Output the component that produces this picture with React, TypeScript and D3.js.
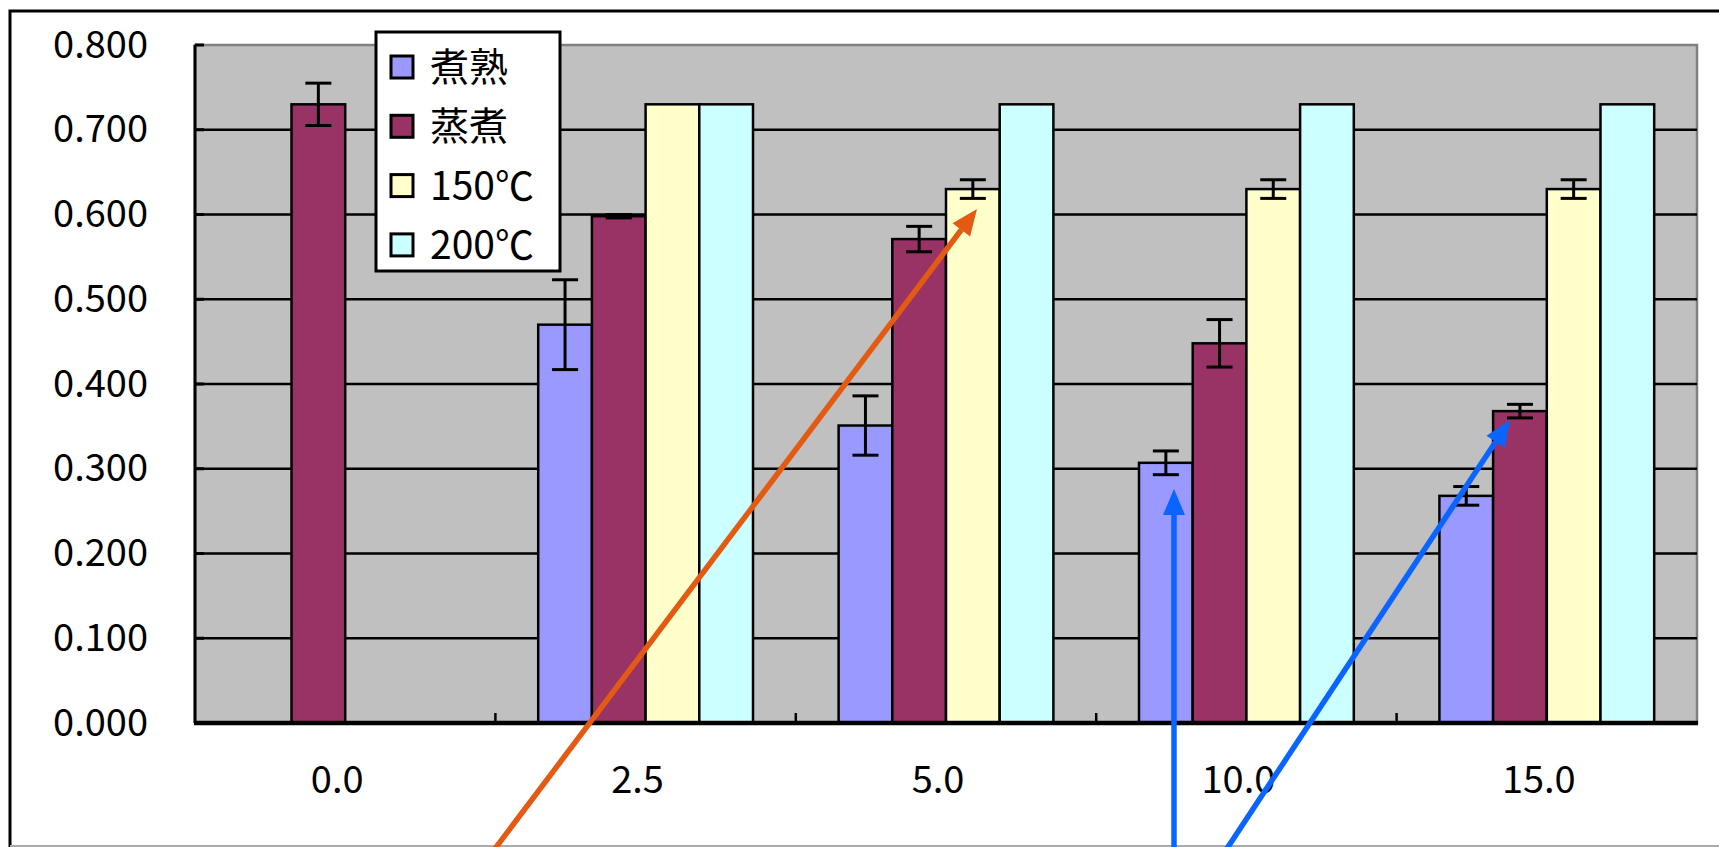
import React, { useEffect, useRef } from "react";
import * as d3 from "d3";

const categories = ["0.0", "2.5", "5.0", "10.0", "15.0"];
const seriesNames = ["煮熟", "蒸煮", "150℃", "200℃"];
const seriesColors = ["#9999FF", "#993366", "#FFFFCC", "#CCFFFF"];
// values per series, per category (null = no bar)
const valBoiled: (number | null)[] = [null, 0.47, 0.351, 0.307, 0.268];
const valSteamed: (number | null)[] = [0.73, 0.598, 0.571, 0.448, 0.368];
const val150: (number | null)[] = [null, 0.73, 0.63, 0.63, 0.63];
const val200: (number | null)[] = [null, 0.73, 0.73, 0.73, 0.73];
const errBoiled: number[] = [0, 0.053, 0.035, 0.014, 0.011];
const errSteamed: number[] = [0.025, 0.002, 0.015, 0.028, 0.008];
const err150: number[] = [0, 0, 0.011, 0.011, 0.011];
const err200: number[] = [0, 0, 0, 0, 0];
const yTicks = [0, 0.1, 0.2, 0.3, 0.4, 0.5, 0.6, 0.7, 0.8];

const W = 1719;
const H = 847;
const FONT = "'Noto Sans CJK JP', 'Liberation Sans', sans-serif";

export default function App() {
  const ref = useRef<SVGSVGElement>(null);
  useEffect(() => {
    const svg = d3.select(ref.current!);
    svg.selectAll("*").remove();

    const left = 195, right = 1697, top = 45, bottom = 723;
    const values = [valBoiled, valSteamed, val150, val200];
    const errs = [errBoiled, errSteamed, err150, err200];

    const x = d3.scaleBand<string>().domain(categories).range([left, right])
      .paddingInner(0.285).paddingOuter(0.1425);
    const xs = d3.scaleBand<string>().domain(seriesNames).range([0, x.bandwidth()]);
    const y = d3.scaleLinear().domain([0, 0.8]).range([bottom, top]);
    const step = x.step();

    // outer frame
    svg.append("rect").attr("x", 10).attr("y", 11).attr("width", 1800).attr("height", 900)
      .attr("fill", "white").attr("stroke", "black").attr("stroke-width", 3);
    svg.append("line").attr("x1", 10).attr("x2", W).attr("y1", 846).attr("y2", 846)
      .attr("stroke", "#aaaaaa").attr("stroke-width", 2);

    // plot area
    svg.append("rect").attr("x", left).attr("y", top).attr("width", right - left)
      .attr("height", bottom - top).attr("fill", "#C0C0C0")
      .attr("stroke", "#808080").attr("stroke-width", 2.5);

    // gridlines
    svg.append("g").selectAll("line").data(yTicks.filter(t => t > 0 && t < 0.8)).join("line")
      .attr("x1", left).attr("x2", right).attr("y1", d => y(d)).attr("y2", d => y(d))
      .attr("stroke", "black").attr("stroke-width", 2.5);

    // bars
    seriesNames.forEach((s, si) => {
      const g = svg.append("g");
      categories.forEach((c, ci) => {
        const v = values[si][ci];
        if (v == null) return;
        const bx = x(c)! + xs(s)!;
        g.append("rect").attr("x", bx).attr("y", y(v)).attr("width", xs.bandwidth())
          .attr("height", y(0) - y(v)).attr("fill", seriesColors[si])
          .attr("stroke", "black").attr("stroke-width", 2.5);
      });
    });
    // error bars
    seriesNames.forEach((s, si) => {
      const g = svg.append("g").attr("stroke", "black").attr("stroke-width", 3);
      categories.forEach((c, ci) => {
        const v = values[si][ci];
        const e = errs[si][ci];
        if (v == null || !e) return;
        const cx = x(c)! + xs(s)! + xs.bandwidth() / 2;
        g.append("line").attr("x1", cx).attr("x2", cx).attr("y1", y(v + e)).attr("y2", y(v - e));
        g.append("line").attr("x1", cx - 13).attr("x2", cx + 13).attr("y1", y(v + e)).attr("y2", y(v + e));
        g.append("line").attr("x1", cx - 13).attr("x2", cx + 13).attr("y1", y(v - e)).attr("y2", y(v - e));
      });
    });

    // axes lines
    svg.append("line").attr("x1", left).attr("x2", left).attr("y1", top).attr("y2", bottom)
      .attr("stroke", "black").attr("stroke-width", 3);
    svg.append("g").selectAll("line").data(yTicks).join("line")
      .attr("x1", left).attr("x2", left + 9).attr("y1", d => y(d)).attr("y2", d => y(d))
      .attr("stroke", "black").attr("stroke-width", 3);
    svg.append("g").selectAll("line").data(d3.range(1, categories.length)).join("line")
      .attr("x1", d => left + d * step).attr("x2", d => left + d * step)
      .attr("y1", bottom).attr("y2", bottom - 10)
      .attr("stroke", "black").attr("stroke-width", 2.5);
    svg.append("line").attr("x1", left - 1).attr("x2", right + 1).attr("y1", bottom).attr("y2", bottom)
      .attr("stroke", "black").attr("stroke-width", 4.5);

    // tick labels
    svg.append("g").selectAll("text").data(yTicks).join("text")
      .attr("x", 148).attr("y", d => y(d) - 1).attr("dy", "0.36em")
      .attr("text-anchor", "end").attr("font-family", FONT).attr("font-size", 38)
      .text(d => d3.format(".3f")(d));
    svg.append("g").selectAll("text").data(categories).join("text")
      .attr("x", d => x(d)! + x.bandwidth() / 2 - 8).attr("y", 779).attr("dy", "0.36em")
      .attr("text-anchor", "middle").attr("font-family", FONT).attr("font-size", 38)
      .text(d => d);

    // legend
    const lg = svg.append("g");
    lg.append("rect").attr("x", 376).attr("y", 32).attr("width", 184).attr("height", 239)
      .attr("fill", "white").attr("stroke", "black").attr("stroke-width", 3);
    seriesNames.forEach((s, i) => {
      const cy = 67 + i * 59.3;
      lg.append("rect").attr("x", 391).attr("y", cy - 11).attr("width", 22).attr("height", 22)
        .attr("fill", seriesColors[i]).attr("stroke", "black").attr("stroke-width", 3);
      lg.append("text").attr("x", 430).attr("y", cy).attr("dy", "0.36em")
        .attr("font-family", FONT).attr("font-size", 39).text(s);
    });

    // annotation arrows
    const arrow = (x1: number, y1: number, x2: number, y2: number, color: string) => {
      const ang = Math.atan2(y2 - y1, x2 - x1);
      const L = 26, hw = 11;
      const bx = x2 - L * Math.cos(ang), by = y2 - L * Math.sin(ang);
      svg.append("line").attr("x1", x1).attr("y1", y1).attr("x2", bx).attr("y2", by)
        .attr("stroke", color).attr("stroke-width", 5.5);
      const px = -Math.sin(ang) * hw, py = Math.cos(ang) * hw;
      svg.append("polygon")
        .attr("points", `${x2},${y2} ${bx + px},${by + py} ${bx - px},${by - py}`)
        .attr("fill", color);
    };
    arrow(494, 850, 977, 209, "#E35A12");
    arrow(1174, 850, 1174, 489, "#0A64FF");
    arrow(1226, 850, 1510, 420, "#0A64FF");
  }, []);
  return (
    <svg ref={ref} width={W} height={H}
      style={{ position: "absolute", left: 0, top: 0, background: "white" }} />
  );
}
